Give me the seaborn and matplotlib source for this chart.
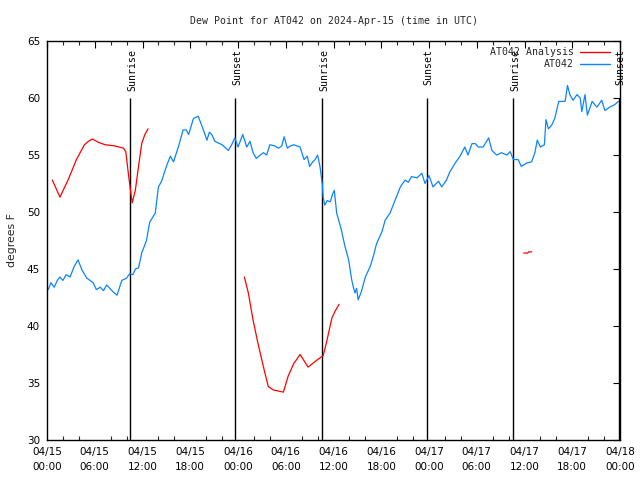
import numpy as np
import pandas as pd
import matplotlib
matplotlib.use("Agg")
import matplotlib.pyplot as plt
import matplotlib.transforms as mtransforms
from matplotlib.lines import Line2D
from matplotlib.ticker import MultipleLocator
import seaborn as sns

# ---------------- data (hours since 2024-04-15 00:00 UTC) ----------------
obs_hours = [0.16, 0.5, 0.9, 1.3, 1.6, 2.0, 2.4, 2.9, 3.4, 3.9, 4.4, 5.0, 5.4, 5.8, 6.2, 6.7,
             7.1, 7.5, 7.9, 8.3, 8.8, 9.4, 10.0, 10.4, 10.8, 11.1, 11.5, 11.9, 12.5, 12.9,
             13.6, 14.0, 14.4, 15.0, 15.5, 15.9, 16.5, 17.1, 17.5, 17.8, 18.4, 19.0, 19.6,
             20.1, 20.4, 20.7, 21.1, 22.0, 22.8, 23.2, 23.6, 24.0, 24.6, 25.1, 25.5, 25.9,
             26.3, 26.8, 27.2, 27.6, 28.0, 28.6, 29.1, 29.5, 29.8, 30.2, 30.6, 31.0, 31.8,
             32.3, 32.7, 33.0, 33.4, 33.7, 34.0, 34.3, 34.6, 34.7, 34.9, 35.2, 35.6, 35.9,
             36.1, 36.4, 37.0, 37.4, 37.9, 38.3, 38.5, 38.7, 38.9, 39.1, 39.5, 40.0, 40.6,
             41.0, 41.4, 42.1, 42.5, 43.1, 43.5, 43.9, 44.4, 45.0, 45.4, 45.8, 46.5, 47.1,
             47.5, 48.0, 48.5, 49.2, 49.6, 50.2, 50.6, 51.3, 51.9, 52.5, 52.9, 53.4, 53.8,
             54.2, 54.8, 55.5, 55.9, 56.5, 57.1, 57.8, 58.2, 58.6, 59.2, 59.6, 60.3, 60.9,
             61.3, 61.6, 62.0, 62.5, 62.7, 63.0, 63.4, 63.8, 64.3, 65.1, 65.4, 65.7, 66.1,
             66.6, 67.0, 67.2, 67.6, 67.9, 68.5, 69.1, 69.7, 70.1, 70.7, 71.3, 71.8]
obs_dewpt = [43.2, 43.8, 43.4, 44.0, 44.3, 44.0, 44.5, 44.3, 45.2, 45.8, 44.9, 44.2, 44.0, 43.8, 43.2, 43.4,
             43.1, 43.6, 43.3, 43.0, 42.7, 44.0, 44.2, 44.6, 44.5, 45.0, 45.1, 46.4, 47.5, 49.1,
             49.9, 52.2, 52.7, 54.0, 54.9, 54.4, 55.7, 57.2, 57.2, 56.8, 58.2, 58.4, 57.3,
             56.3, 57.0, 56.8, 56.2, 55.9, 55.4, 55.9, 56.5, 55.7, 56.8, 55.7, 56.2, 55.2,
             54.7, 55.0, 55.2, 55.0, 55.9, 55.8, 55.6, 55.8, 56.6, 55.6, 55.8, 55.9, 55.7,
             54.6, 54.9, 54.0, 54.4, 54.6, 55.0, 54.0, 52.4, 51.3, 50.6, 51.0, 50.9, 51.6,
             51.9, 49.9, 48.4, 47.1, 45.8, 44.0, 43.4, 42.9, 43.3, 42.3, 43.0, 44.3, 45.2,
             46.1, 47.2, 48.3, 49.3, 49.9, 50.6, 51.3, 52.2, 52.8, 52.6, 53.1, 53.0, 53.4,
             52.5, 53.2, 52.2, 52.7, 52.2, 52.8, 53.5, 54.3, 54.9, 55.7, 55.0, 56.0, 56.0,
             55.7, 55.7, 56.5, 55.4, 55.0, 55.2, 55.0, 55.3, 54.6, 54.6, 54.0, 54.3, 54.4,
             55.2, 56.3, 55.7, 55.9, 58.1, 57.3, 57.6, 58.2, 59.7, 59.7, 61.1, 60.3, 59.8,
             60.3, 60.0, 58.8, 60.3, 58.5, 59.7, 59.2, 59.8, 58.9, 59.2, 59.4, 59.7]

ana_hours = [0.67, 1.63, 2.7, 3.7, 4.7, 5.2, 5.7, 6.5, 7.3, 8.5, 9.6, 9.9, 10.2, 10.4, 10.7,
             11.1, 11.5, 11.9, 12.3, 12.7,
             24.8, 25.3, 25.9, 26.5, 27.2, 27.8, 28.4, 29.7, 30.3, 31.0, 31.8, 32.8, 33.9,
             34.7, 35.1, 35.8, 36.2, 36.7,
             59.9, 60.4, 60.5, 60.9]
ana_dewpt = [52.8, 51.3, 52.9, 54.6, 55.9, 56.2, 56.4, 56.1, 55.9, 55.8, 55.6, 55.3, 53.5, 52.4, 50.8,
             51.9, 54.0, 56.0, 56.8, 57.3,
             44.3, 42.9, 40.5, 38.5, 36.4, 34.7, 34.4, 34.2, 35.6, 36.7, 37.5, 36.4, 37.0,
             37.4, 38.5, 40.7, 41.3, 41.9,
             46.4, 46.4, 46.5, 46.5]
ana_segment = [1] * 20 + [2] * 18 + [3] * 4

sun_hours = [10.47, 23.68, 34.6, 47.75, 58.6, 71.9]
sun_labels = ["Sunrise", "Sunset", "Sunrise", "Sunset", "Sunrise", "Sunset"]

xtick_hours = [0, 6, 12, 18, 24, 30, 36, 42, 48, 54, 60, 66, 72]
xtick_labels = ["04/15\n00:00", "04/15\n06:00", "04/15\n12:00", "04/15\n18:00",
                "04/16\n00:00", "04/16\n06:00", "04/16\n12:00", "04/16\n18:00",
                "04/17\n00:00", "04/17\n06:00", "04/17\n12:00", "04/17\n18:00",
                "04/18\n00:00"]

title = "Dew Point for AT042 on 2024-Apr-15 (time in UTC)"
obs_name = "AT042"
ana_name = "AT042 Analysis"

# ---------------- plotting ----------------
sns.set_theme(style="white")
plt.rcParams["font.family"] = ["DejaVu Sans"]

RED = "#FF0000"
BLUE = "#0A84FF"
MONO = "DejaVu Sans Mono"
MONO_SIZE = 7.1

fig = plt.figure(figsize=(6.4, 4.8), dpi=100)
ax = fig.add_axes([47 / 640, 1 - 440 / 480, (620 - 47) / 640, (440 - 41) / 480])

obs = pd.DataFrame({"hour": obs_hours, "dewpt": obs_dewpt})
ana = pd.DataFrame({"hour": ana_hours, "dewpt": ana_dewpt, "seg": ana_segment})

for seg, d in ana.groupby("seg"):
    sns.lineplot(data=d, x="hour", y="dewpt", ax=ax, color=RED, linewidth=0.9,
                 estimator=None, sort=False, legend=False)
sns.lineplot(data=obs, x="hour", y="dewpt", ax=ax, color=BLUE, linewidth=0.9,
             estimator=None, sort=False, legend=False)

# sunrise / sunset markers
ax.vlines(sun_hours, 30, 60, colors="black", linewidth=1.0, zorder=1)
trans = mtransforms.blended_transform_factory(ax.transData, ax.transAxes)
for h, lab in zip(sun_hours, sun_labels):
    ax.text(h + 0.2, 0.98, lab, rotation=90, ha="center", va="top", transform=trans,
            fontsize=MONO_SIZE, family=MONO, color="black")

ax.set_xlim(0, 72)
ax.set_ylim(30, 65)
ax.set_xticks(xtick_hours)
ax.set_xticklabels(xtick_labels)
ax.xaxis.set_minor_locator(MultipleLocator(2))
ax.yaxis.set_major_locator(MultipleLocator(5))
ax.tick_params(axis="both", which="major", direction="in", length=5, width=0.8,
               top=True, right=True, labelsize=7.5, colors="black", pad=5)
ax.tick_params(axis="x", which="minor", direction="in", length=3, width=0.8,
               top=True, bottom=True)
for lbl in ax.get_xticklabels():
    lbl.set_linespacing(1.6)

for sp in ax.spines.values():
    sp.set_visible(True)
    sp.set_color("black")
    sp.set_linewidth(1.0)

ax.set_xlabel("")
ax.set_ylabel("degrees F", fontsize=7.8, labelpad=7)
ax.set_title(title, fontsize=MONO_SIZE, family=MONO, pad=12.5)

handles = [Line2D([0], [0], color=RED, lw=1.0), Line2D([0], [0], color=BLUE, lw=1.0)]
leg = ax.legend(handles, [ana_name, obs_name], loc="upper right", frameon=False,
                markerfirst=False, prop={"family": MONO, "size": MONO_SIZE},
                handlelength=3.0, handletextpad=0.68, labelspacing=0.25,
                bbox_to_anchor=(0.9825, 0.985), borderaxespad=0.0, borderpad=0.0)

fig.savefig("out.png", dpi=100)
